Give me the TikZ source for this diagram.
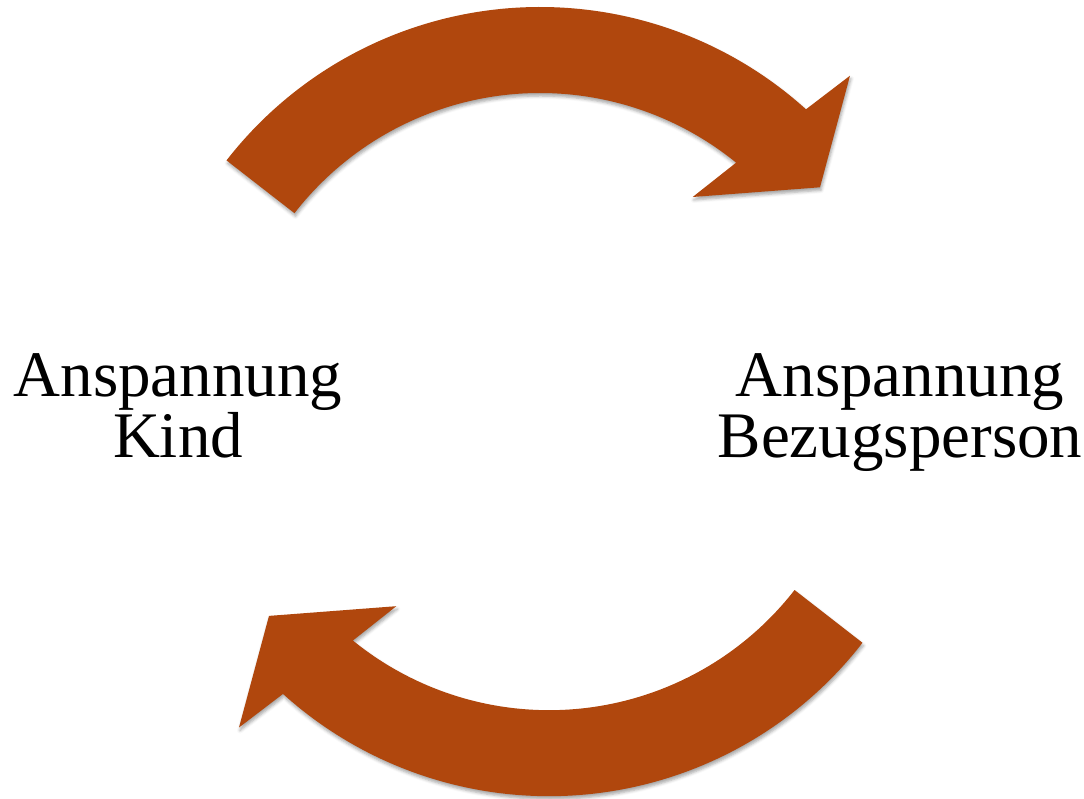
\documentclass[tikz,border=0pt]{standalone}
\usepackage{fontspec}
\setmainfont{Liberation Serif}
\usetikzlibrary{calc,shadows.blur}
\definecolor{rust}{RGB}{176,71,13}
\tikzset{
  curvearrow/.style={fill=rust, draw=none,
    blur shadow={shadow xshift=1pt, shadow yshift=-3pt,
                 shadow blur radius=3pt, shadow opacity=35}},
  label/.style={align=center, inner sep=0pt, anchor=base,
    font=\fontsize{65}{61}\selectfont}
}
\begin{document}
\begin{tikzpicture}[x=1pt, y=1pt]
  \useasboundingbox (0,0) rectangle (1084,799);
  % curved block arrow: circular band around (540,395),
  % outer radius 397, inner radius 311, head at the right end
  \newcommand{\bandarrow}{%
    ($(540,395)+(142.15:397pt)$) arc[start angle=142.15, end angle=47.93, radius=397pt]
    -- (850,723.3) -- (820,611.7) -- (692.7,602)
    -- ($(540,395)+(50.9:311pt)$) arc[start angle=50.9, end angle=142.15, radius=311pt]
    -- cycle}
  \path[curvearrow] \bandarrow;
  % lower arrow: the same shape turned half a circle
  \begin{scope}[rotate around={180:(544.5,397.4)}]
    \path[curvearrow] \bandarrow;
  \end{scope}
  % labels (anchored at the baseline of their last line)
  \node[label] (kind) at (178,341) {Anspannung\\Kind};
  \node[label] (bezug) at (900,341) {Anspannung\\Bezugsperson};
\end{tikzpicture}
\end{document}
